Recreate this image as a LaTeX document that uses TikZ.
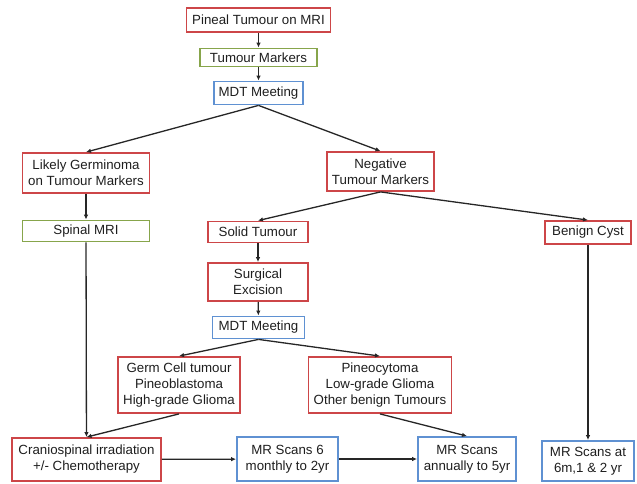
\documentclass[tikz,border=0pt]{standalone}
\usepackage{fontspec}
\setmainfont{Liberation Sans}
\usepackage{xcolor}
\usetikzlibrary{arrows.meta}

\definecolor{boxred}{RGB}{205,70,72}
\definecolor{boxgreen}{RGB}{135,165,75}
\definecolor{boxblue}{RGB}{95,145,210}
\definecolor{inktext}{RGB}{30,30,30}

\tikzset{
  box/.style={draw, line width=1.8pt, align=center, inner sep=1pt, text=inktext,
    font=\fontsize{13.3}{16}\selectfont},
  redbox/.style={box, draw=boxred},
  greenbox/.style={box, draw=boxgreen},
  bluebox/.style={box, draw=boxblue},
}

\begin{document}
\begin{tikzpicture}[x=1pt, y=-1pt, >={Latex[length=5pt,width=4.5pt]}, line width=1.3pt, draw=black!85]
		\useasboundingbox (0,0) rectangle (637,483);

		% top of the chart
		\node[redbox, minimum width=144pt, minimum height=24pt] (pineal) at (258.5,20) {Pineal Tumour on MRI};
		\node[greenbox, minimum width=117pt, minimum height=18pt] (markers) at (258.5,57.5) {Tumour Markers};
		\node[bluebox, minimum width=89pt, minimum height=23pt] (mdtA) at (258.5,93) {MDT Meeting};

		% first split
		\node[redbox, minimum width=127pt, minimum height=40pt] (germinoma) at (86,173) {Likely Germinoma\\on Tumour Markers};
		\node[redbox, minimum width=107pt, minimum height=39pt] (negative) at (380.5,171.5) {Negative\\Tumour Markers};
		\node[greenbox, minimum width=127pt, minimum height=21pt] (spinal) at (86,231) {Spinal MRI};
		\node[redbox, minimum width=100pt, minimum height=21pt] (solid) at (258,232) {Solid Tumour};
		\node[redbox, minimum width=86pt, minimum height=23pt] (cyst) at (588,232.5) {Benign Cyst};

		% surgery branch
		\node[redbox, minimum width=100pt, minimum height=38pt] (excision) at (258,282) {Surgical\\Excision};
		\node[bluebox, minimum width=92pt, minimum height=22pt] (mdtB) at (258.5,327.5) {MDT Meeting};
		\node[redbox, minimum width=122pt, minimum height=56pt] (germcell) at (179,385) {Germ Cell tumour\\Pineoblastoma\\High-grade Glioma};
		\node[redbox, minimum width=143pt, minimum height=56pt] (pineo) at (380,385) {Pineocytoma\\Low-grade Glioma\\Other benign Tumours};

		% bottom row
		\node[redbox, minimum width=149pt, minimum height=43pt] (cranio) at (86.5,459.5) {Craniospinal irradiation\\+/- Chemotherapy};
		\node[bluebox, minimum width=101pt, minimum height=44pt] (mrsix) at (287.5,459) {MR Scans 6\\monthly to 2yr};
		\node[bluebox, minimum width=98pt, minimum height=44pt] (mrannual) at (467,459) {MR Scans\\annually to 5yr};
		\node[bluebox, minimum width=92pt, minimum height=40pt] (mrat) at (588,461) {MR Scans at\\6m,1 \& 2 yr};

		\draw[->] (pineal) -- (markers);
		\draw[->] (markers) -- (mdtA);
		\draw[->] (mdtA.south) -- (germinoma.north);
		\draw[->] (mdtA.south) -- (negative.north);
		\draw[->] (germinoma) -- (spinal);
		\draw[->] (negative.south) -- (solid.north);
		\draw[->] (negative.south) -- (cyst.north);
		\draw[->] (solid) -- (excision);
		\draw[->] (excision) -- (mdtB);
		\draw[->] (mdtB.south) -- (germcell.north);
		\draw[->] (mdtB.south) -- (pineo.north);
		\draw[->] (spinal) -- (cranio);
		\draw[->] (germcell.south) -- (cranio.north);
		\draw[->] (pineo.south) -- (mrannual.north);
		\draw[->] (cyst) -- (mrat);
		\draw[->] (cranio) -- (mrsix);
		\draw[->] (mrsix) -- (mrannual);
	\end{tikzpicture}
\end{document}
